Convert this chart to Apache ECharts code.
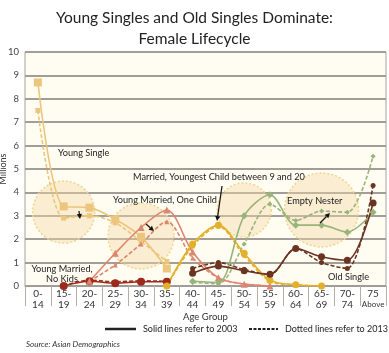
<!DOCTYPE html>
<html>
<head>
<meta charset="utf-8">
<script src="https://cdn.jsdelivr.net/npm/echarts@6/dist/echarts.min.js"></script>
<style>
  html, body { margin: 0; padding: 0; background: #fff; }
  #chart { width: 389px; height: 353px; }
</style>
</head>
<body>
<div id="chart"></div>
<script>
// Données (millions de femmes par tranche d'âge)
const ageGroups = ['0-14', '15-19', '20-24', '25-29', '30-34', '35-39', '40-44',
  '45-49', '50-54', '55-59', '60-64', '65-69', '70-74', '75 Above'];
const yTicks = [0, 10, 1];

const youngSingle2003 = [8.7, 3.4, 3.35, 2.85, 2.1, 0.75, null, null, null, null, null, null, null, null];
const youngSingle2013 = [7.5, 2.9, 3.0, 2.7, 1.9, 1.05, null, null, null, null, null, null, null, null];
const noKids2003 = [null, 0.0, 0.2, 0.12, 0.18, 0.18, null, null, null, null, null, null, null, null];
const noKids2013 = [null, 0.02, 0.25, 0.18, 0.22, 0.2, null, null, null, null, null, null, null, null];
const oneChild2003 = [null, null, 0.2, 1.4, 2.5, 3.25, 1.45, 0.35, 0.08, 0.0, null, null, null, null];
const oneChild2013 = [null, null, 0.2, 0.9, 1.8, 2.75, 1.2, 0.35, 0.08, 0.0, null, null, null, null];
const youngest2003 = [null, null, null, null, null, 0.0, 1.8, 2.6, 1.4, 0.25, 0.05, 0.0, null, null];
const youngest2013 = [null, null, null, null, null, 0.0, 1.7, 2.55, 1.3, 0.2, 0.05, 0.0, null, null];
const emptyNester2003 = [null, null, null, null, null, null, 0.2, 0.15, 3.0, 3.9, 2.6, 2.6, 2.3, 3.15];
const emptyNester2013 = [null, null, null, null, null, null, 0.15, 0.1, 1.8, 3.5, 2.8, 3.2, 3.15, 5.55];
const oldSingle2003 = [null, null, null, null, null, null, 0.55, 0.85, 0.65, 0.5, 1.6, 1.25, 1.1, 3.55];
const oldSingle2013 = [null, null, null, null, null, null, 0.75, 1.0, 0.7, 0.5, 1.6, 1.0, 0.75, 4.3];

// Zones surlignées : centre en coordonnées data (index de catégorie, valeur)
const zoneCenters = [[1.32, 3.16], [4.03, 2.14], [8.41, 3.25], [11.48, 3.25]];

const FONT = 'Lato';
const C = {
  ys: '#ebc67c', nk: '#9e2a1c', oc: '#dc8670', yg: '#e4b02c', en: '#98b47a', os: '#6b3322',
};

function line(data, color, symbol, size, dashed) {
  return {
    type: 'line', data, smooth: 0.3, symbol, symbolSize: size,
    lineStyle: { color, width: 1.6, type: dashed ? [4, 2] : 'solid' },
    itemStyle: { color }, z: dashed ? 3 : 4, silent: true,
  };
}

const chart = echarts.init(document.getElementById('chart'), null, { renderer: 'canvas' });
chart.setOption({
  animation: false,
  textStyle: { fontFamily: FONT },
  title: {
    text: 'Young Singles and Old Singles Dominate:\nFemale Lifecycle',
    left: 'center', top: 2,
    textStyle: { fontFamily: FONT, fontSize: 15.5, fontWeight: 'normal', color: '#222', lineHeight: 21 },
  },
  grid: {
    left: 25, right: 3, top: 52, bottom: 67, show: true, outerBoundsMode: 'none',
    backgroundColor: '#fffdf1', borderColor: '#a8a29e', borderWidth: 1,
  },
  xAxis: {
    type: 'category', data: ageGroups, boundaryGap: true,
    name: 'Age Group', nameLocation: 'middle', nameGap: 26, nameMoveOverlap: false,
    nameTextStyle: { fontFamily: FONT, fontSize: 9.5, color: '#333' },
    axisLine: { lineStyle: { color: '#a09a96', width: 1 } },
    axisTick: { show: true, alignWithLabel: false, interval: 0, length: 20, lineStyle: { color: '#b5afab' } },
    axisLabel: {
      interval: 0, margin: 3, fontSize: 10, color: '#333', lineHeight: 10.5,
      formatter: (v) => (v === '75 Above' ? '75\n{s|Above}' : v.replace('-', '-\n')),
      rich: { s: { fontSize: 8, color: '#333', lineHeight: 10.5 } },
    },
  },
  yAxis: {
    type: 'value', min: yTicks[0], max: yTicks[1], interval: yTicks[2],
    name: 'Millions', nameLocation: 'middle', nameGap: 17, nameMoveOverlap: false,
    nameTextStyle: { fontFamily: FONT, fontSize: 9, color: '#333' },
    axisLine: { show: false }, axisTick: { show: false },
    axisLabel: { fontSize: 9.5, color: '#444', margin: 6 },
    splitLine: { lineStyle: { color: '#a39d99', width: 2 } },
  },
  series: [
    line(youngSingle2013, C.ys, 'rect', 5, true),
    line(youngSingle2003, C.ys, 'rect', 8, false),
    line(noKids2013, C.nk, 'circle', 4, true),
    line(noKids2003, C.nk, 'circle', 8, false),
    line(oneChild2013, C.oc, 'triangle', 5, true),
    line(oneChild2003, C.oc, 'triangle', 7, false),
    line(youngest2013, C.yg, 'circle', 5, true),
    line(youngest2003, C.yg, 'circle', 7, false),
    line(emptyNester2013, C.en, 'diamond', 5, true),
    line(emptyNester2003, C.en, 'diamond', 7, false),
    line(oldSingle2013, C.os, 'circle', 5, true),
    line(oldSingle2003, C.os, 'circle', 7, false),
  ],
});

// -- Annotations : zones, libellés, flèches, légende maison -----------------
const zoneRadii = [31, 33, 27, 37];
const px = (p) => chart.convertToPixel({ gridIndex: 0 }, p);
const label = (text, x, y, extra) => ({
  type: 'text', x, y, z: 10, silent: true,
  style: Object.assign({ text, fontFamily: FONT, fontSize: 9.2, fill: '#222', verticalAlign: 'middle' }, extra || {}),
});
function arrow(x1, y1, x2, y2) {
  const a = Math.atan2(y2 - y1, x2 - x1), h = 5, w = 2.6;
  const bx = x2 - h * Math.cos(a), by = y2 - h * Math.sin(a);
  return [
    { type: 'line', z: 10, silent: true, shape: { x1, y1, x2: bx, y2: by }, style: { stroke: '#111', lineWidth: 1.2 } },
    { type: 'polygon', z: 10, silent: true,
      shape: { points: [[x2, y2], [bx + w * Math.sin(a), by - w * Math.cos(a)], [bx - w * Math.sin(a), by + w * Math.cos(a)]] },
      style: { fill: '#111' } },
  ];
}

const zones = zoneCenters.map((c, i) => {
  const [cx, cy] = px(c);
  return {
    type: 'circle', z: 1, silent: true, shape: { cx, cy, r: zoneRadii[i] },
    style: { fill: 'rgba(242,214,168,0.42)', stroke: '#f1d58e', lineWidth: 1.5, lineDash: [2, 2] },
  };
});

chart.setOption({
  graphic: [
    ...zones,
    label('Young Single', 58, 153),
    label('Young Married, One Child', 113, 200),
    label('Married, Youngest Child between 9 and 20', 133, 177),
    label('Empty Nester', 287, 201),
    label('Young Married,\nNo Kids', 62, 274, { align: 'center', lineHeight: 10.5 }),
    label('Old Single', 328, 277),
    ...arrow(79, 211, 80, 219),
    ...arrow(146, 224, 154, 231),
    ...arrow(222, 186, 217, 221),
    ...arrow(320, 223, 330, 213),
    { type: 'line', silent: true, shape: { x1: 105, y1: 329, x2: 136, y2: 329 }, style: { stroke: '#222', lineWidth: 2.5 } },
    label('Solid lines refer to 2003', 143, 329, { fontSize: 9 }),
    { type: 'line', silent: true, shape: { x1: 249, y1: 329, x2: 278, y2: 329 }, style: { stroke: '#222', lineWidth: 2, lineDash: [3, 1.5] } },
    label('Dotted lines refer to 2013', 285, 329, { fontSize: 9 }),
    label('Source: Asian Demographics', 26, 344, { fontSize: 8, fontStyle: 'italic', fill: '#333' }),
  ],
});
</script>
</body>
</html>
